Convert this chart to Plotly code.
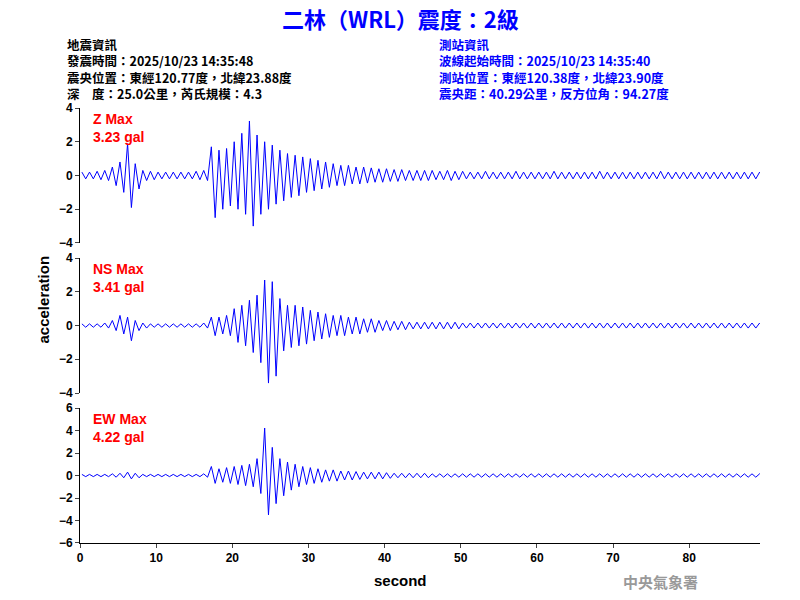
import plotly.graph_objects as go

seconds = list(range(90))
z_max = [.2,.2,.25,.3,.5,.8,1.9,.7,.3,.25,.2,.2,.2,.2,.2,.25,.3,1.7,1.5,1.6,
         2.0,2.5,3.23,2.4,2.0,1.8,1.5,1.3,1.2,1.1,1.0,.9,.8,.7,.6,.6,.5,.5,.45,.4,
         .4,.35,.35,.3,.3,.3,.3,.25,.3,.25,.25,.2,.2,.25,.2,.2,.2,.25,.2,.2,
         .2,.2,.25,.2,.2,.2,.2,.2,.25,.2,.2,.2,.2,.2,.2,.2,.25,.2,.2,.2,.2,.2,.2,.2,.2,.2,.2,.2,.2,.2]
z_min = [-.2,-.2,-.25,-.3,-.6,-1.0,-1.9,-.8,-.3,-.25,-.2,-.2,-.2,-.2,-.2,-.25,-.3,-2.5,-2.0,-1.8,
         -2.0,-2.3,-3.0,-2.3,-2.0,-1.7,-1.5,-1.3,-1.2,-1.0,-.9,-.8,-.7,-.6,-.6,-.5,-.5,-.45,-.4,-.4,
         -.35,-.35,-.3,-.3,-.3,-.3,-.25,-.25,-.3,-.25,-.2,-.2,-.2,-.2,-.2,-.2,-.2,-.2,-.2,-.2,
         -.2,-.2,-.2,-.2,-.2,-.2,-.2,-.2,-.2,-.2,-.2,-.2,-.2,-.2,-.2,-.2,-.2,-.2,-.2,-.2,-.2,-.2,-.2,-.2,-.2,-.2,-.2,-.2,-.2,-.2]
ns_max = [.1,.1,.1,.15,.3,.6,.5,.3,.15,.1,.1,.1,.1,.1,.1,.1,.15,.5,.5,.6,
          1.0,1.2,1.5,1.8,2.7,2.6,1.6,1.2,1.2,1.1,.9,.8,.7,.6,.6,.5,.5,.4,.4,.3,
          .3,.25,.25,.2,.2,.2,.2,.2,.2,.2,.15,.15,.15,.15,.15,.15,.15,.15,.15,.15,
          .15,.15,.15,.15,.15,.15,.15,.15,.15,.15,.15,.15,.15,.15,.15,.15,.15,.15,.15,.15,.15,.15,.15,.15,.15,.15,.15,.15,.15,.15]
ns_min = [-.1,-.1,-.1,-.15,-.3,-.5,-.9,-.3,-.15,-.1,-.1,-.1,-.1,-.1,-.1,-.1,-.15,-.6,-.5,-.6,
          -1.0,-1.2,-1.6,-2.2,-3.41,-3.0,-1.5,-1.3,-1.2,-1.1,-.9,-.8,-.7,-.6,-.6,-.5,-.5,-.4,-.4,-.3,
          -.3,-.25,-.25,-.2,-.2,-.2,-.2,-.2,-.2,-.2,-.15,-.15,-.15,-.15,-.15,-.15,-.15,-.15,-.15,-.15,
          -.15,-.15,-.15,-.15,-.15,-.15,-.15,-.15,-.15,-.15,-.15,-.15,-.15,-.15,-.15,-.15,-.15,-.15,-.15,-.15,-.15,-.15,-.15,-.15,-.15,-.15,-.15,-.15,-.15,-.15]
ew_max = [.1,.1,.1,.1,.15,.2,.3,.2,.1,.1,.1,.1,.1,.1,.1,.1,.15,.8,.6,.7,
          .8,.9,1.0,1.5,4.22,2.5,1.5,1.2,1.0,.8,.7,.6,.5,.5,.4,.4,.35,.3,.3,.3,
          .25,.2,.2,.2,.2,.2,.15,.15,.15,.15,.15,.15,.15,.15,.15,.15,.15,.15,.15,.15,
          .15,.15,.15,.15,.15,.15,.15,.15,.15,.15,.15,.15,.15,.15,.15,.15,.15,.15,.15,.15,.15,.15,.15,.15,.15,.15,.15,.15,.15,.15]
ew_min = [-.1,-.1,-.1,-.1,-.15,-.2,-.3,-.2,-.1,-.1,-.1,-.1,-.1,-.1,-.1,-.1,-.15,-.7,-.6,-.7,
          -.8,-.9,-1.0,-1.6,-3.5,-2.5,-1.8,-1.3,-1.0,-.8,-.7,-.6,-.5,-.5,-.4,-.4,-.35,-.3,-.3,-.3,
          -.25,-.2,-.2,-.2,-.2,-.2,-.15,-.15,-.15,-.15,-.15,-.15,-.15,-.15,-.15,-.15,-.15,-.15,-.15,-.15,
          -.15,-.15,-.15,-.15,-.15,-.15,-.15,-.15,-.15,-.15,-.15,-.15,-.15,-.15,-.15,-.15,-.15,-.15,-.15,-.15,-.15,-.15,-.15,-.15,-.15,-.15,-.15,-.15,-.15,-.15]

def zig(mx, mn):
    xs, ys = [], []
    for s, a, b in zip(seconds, mx, mn):
        xs += [s + 0.25, s + 0.75]
        ys += [a, b]
    return xs, ys

fig = go.Figure()
panels = [(z_max, z_min, "y", "x"), (ns_max, ns_min, "y2", "x2"), (ew_max, ew_min, "y3", "x3")]
for mx, mn, ya, xa in panels:
    xs, ys = zig(mx, mn)
    fig.add_trace(go.Scatter(x=xs, y=ys, mode="lines", line=dict(color="#0000ff", width=1),
                             xaxis=xa, yaxis=ya, showlegend=False, hoverinfo="skip"))

tf = dict(family="Arial", size=12, color="black", weight="bold")
common_y = dict(showline=True, linecolor="black", ticks="outside", ticklen=4, showgrid=False,
                zeroline=False, tickfont=tf)
common_x = dict(range=[0, 89.3], showgrid=False, zeroline=False, tickfont=tf)
fig.update_layout(
    width=800, height=600, plot_bgcolor="white", paper_bgcolor="white",
    margin=dict(l=80, r=40, t=108, b=57),
    xaxis=dict(common_x, domain=[0, 1], anchor="y", showticklabels=False, showline=False),
    xaxis2=dict(common_x, domain=[0, 1], anchor="y2", showticklabels=False, showline=False),
    xaxis3=dict(common_x, domain=[0, 1], anchor="y3", showline=True, linecolor="black",
                ticks="outside", ticklen=4, dtick=10),
    yaxis=dict(common_y, domain=[0.6897, 1], range=[-4, 4], dtick=2),
    yaxis2=dict(common_y, domain=[0.3448, 0.655], range=[-4, 4], dtick=2),
    yaxis3=dict(common_y, domain=[0, 0.3103], range=[-6, 6], dtick=2),
)

cjk = "Noto Sans CJK TC"
left = ["地震資訊", "發震時間：2025/10/23 14:35:48", "震央位置：東經120.77度，北緯23.88度", "深　度：25.0公里，芮氏規模：4.3"]
right = ["測站資訊", "波線起始時間：2025/10/23 14:35:40", "測站位置：東經120.38度，北緯23.90度", "震央距：40.29公里，反方位角：94.27度"]
annotations = [dict(text="<b>二林（WRL）震度：2級</b>", xref="paper", yref="paper", x=(400-80)/680,
                    y=(543-18)/435, yanchor="middle", showarrow=False,
                    font=dict(family=cjk, size=22, color="#0000ff"))]
for lines, px, col in [(left, 65, "black"), (right, 437, "#0000ff")]:
    annotations.append(dict(text="<b>" + "<br>".join(lines) + "</b>", xref="paper", yref="paper",
                            x=(px-80)/680, y=(543-33)/435, xanchor="left", yanchor="top", align="left",
                            showarrow=False, font=dict(family=cjk, size=12.5, color=col)))
for lab, val, ytop in [("Z Max", "3.23", 108), ("NS Max", "3.41", 258), ("EW Max", "4.22", 408)]:
    annotations.append(dict(text=f"<b>{lab}<br>{val} gal</b>", xref="paper", yref="paper", x=11/680,
                            y=(543-ytop-1)/435, xanchor="left", yanchor="top", align="left", showarrow=False,
                            font=dict(family="Arial", size=14, color="red")))
annotations.append(dict(text="<b>acceleration</b>", xref="paper", yref="paper", x=-48/680, y=(543-300)/435,
                        textangle=-90, showarrow=False, font=dict(family="Arial", size=15, color="black")))
annotations.append(dict(text="<b>second</b>", xref="paper", yref="paper", x=(400-80)/680, y=-27/435,
                        yanchor="top", showarrow=False, font=dict(family="Arial", size=15, color="black")))
annotations.append(dict(text="<b>中央氣象署</b>", xref="paper", yref="paper", x=(700-80)/680, y=-26/435,
                        yanchor="top", showarrow=False, font=dict(family=cjk, size=15, color="#999999")))
fig.update_layout(annotations=annotations)
fig.write_html("out.html", config={"displayModeBar": False},
               post_script="document.body.style.margin='0';document.body.style.padding='0';")
